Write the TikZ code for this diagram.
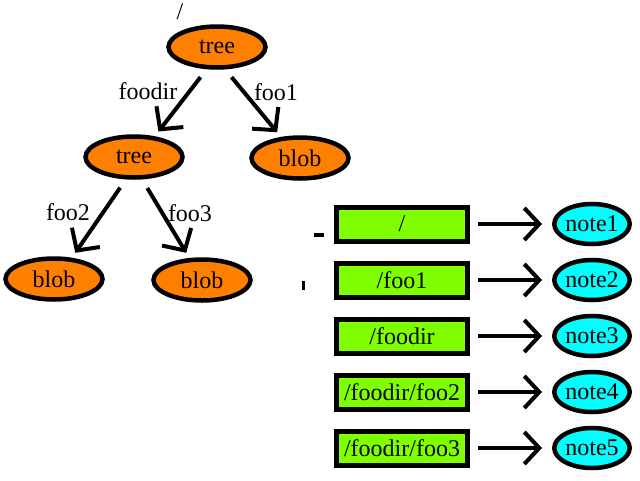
\documentclass[tikz,border=0pt]{standalone}
\usepackage{fontspec}
\setmainfont{Liberation Serif}
\usetikzlibrary{shapes.geometric,arrows.meta}
\definecolor{treeorange}{RGB}{255,128,0}
\definecolor{pathgreen}{RGB}{128,255,0}
\definecolor{notecyan}{RGB}{0,255,255}

\begin{document}
\begin{tikzpicture}[x=1pt,y=-1pt,
  every node/.style={font=\fontsize{24}{26}\selectfont},
  obj/.style={ellipse,draw,line width=4.5pt,fill=treeorange,minimum width=97pt,minimum height=41pt,inner sep=0pt},
  pathbox/.style={rectangle,draw,line width=5pt,fill=pathgreen,minimum width=131pt,minimum height=34pt,inner sep=0pt},
  note/.style={ellipse,draw,line width=4.5pt,fill=notecyan,minimum width=71pt,minimum height=40pt,inner sep=0pt},
  edge/.style={line width=4pt,-{Straight Barb[length=16pt,width=34pt,line width=4pt]},shorten <=10pt,shorten >=6pt},
  link/.style={line width=4pt,-{Straight Barb[length=15pt,width=32pt,line width=4pt]},shorten <=8pt,shorten >=10pt}
]

\useasboundingbox (0,0) rectangle (640,480);

% the tree
\node (rootname) at (180,12) {/};
\node[obj] (root) at (217,47) {tree};
\node[obj] (sub) at (134,157) {tree};
\node[obj] (blobA) at (300,158) {blob};
\node[obj] (blobB) at (54,279) {blob};
\node[obj] (blobC) at (202,280) {blob};

\draw[edge] (root.245) -- (sub.45);
\draw[edge] (root.290) -- (blobA.132);
\draw[edge] (sub.250) -- (blobB.50);
\draw[edge] (sub.290) -- (blobC.120);

% edge names
\node (foodir) at (148,91) {foodir};
\node (fooone) at (276,92) {foo1};
\node (footwo) at (68,212) {foo2};
\node (foothree) at (190,213) {foo3};

% stray marks
\draw[line width=4pt] (314,235) -- (324,235);
\draw[line width=3pt] (303,281) -- (303,290);

% paths and notes
\foreach \p [count=\i] in {/,/foo1,/foodir,/foodir/foo2,/foodir/foo3} {
  \node[pathbox] (path\i) at (402,{168+56*\i}) {\p};
  \node[note] (note\i) at (592,{168+56*\i}) {note\i};
  \draw[link] (path\i) -- (note\i);
}

\end{tikzpicture}
\end{document}
